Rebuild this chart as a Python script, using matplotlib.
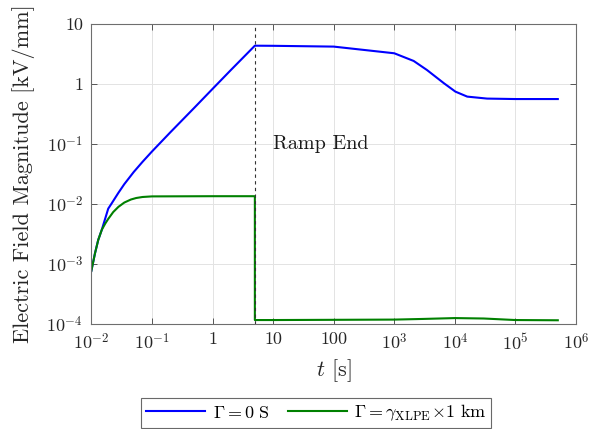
import matplotlib
matplotlib.use('Agg')
import matplotlib.pyplot as plt
from matplotlib.ticker import FixedLocator, FixedFormatter, NullLocator

plt.rcParams['font.family'] = 'serif'
plt.rcParams['font.serif'] = ['cmr10', 'DejaVu Serif']
plt.rcParams['mathtext.fontset'] = 'cm'
plt.rcParams['axes.unicode_minus'] = False

# blue curve: Gamma = 0 S
t_blue = [0.01, 0.0115, 0.013, 0.0149, 0.0165, 0.019, 0.0217, 0.0279, 0.035, 0.05, 0.07, 0.1, 0.2, 0.5, 1, 2, 5,
          10, 100, 1000, 2090, 3460, 6580, 10200, 16000, 34000, 100000, 500000]
e_blue = [7.6e-4, 1.5e-3, 2.5e-3, 3.7e-3, 5.2e-3, 8.3e-3, 1.02e-2, 1.52e-2, 2.13e-2, 3.39e-2, 5.02e-2, 7.45e-2, 0.155, 0.40, 0.826, 1.70, 4.35,
          4.33, 4.2, 3.25, 2.42, 1.71, 1.03, 0.745, 0.615, 0.57, 0.56, 0.56]

# green curve: Gamma = gamma_XLPE x 1 km
t_green = [0.01, 0.0115, 0.013, 0.0149, 0.017, 0.019, 0.023, 0.028, 0.035, 0.045, 0.055, 0.07, 0.1, 1, 5,
           5, 10, 100, 1000, 3000, 10000, 30000, 100000, 500000]
e_green = [7.6e-4, 1.5e-3, 2.5e-3, 3.7e-3, 4.7e-3, 5.6e-3, 7.3e-3, 8.9e-3, 1.05e-2, 1.18e-2, 1.25e-2, 1.3e-2, 1.33e-2, 1.34e-2, 1.34e-2,
           1.15e-4, 1.15e-4, 1.16e-4, 1.17e-4, 1.2e-4, 1.24e-4, 1.22e-4, 1.15e-4, 1.14e-4]

ramp_end = 5

x_ticks = [1e-2, 1e-1, 1, 10, 100, 1e3, 1e4, 1e5, 1e6]
x_labels = [r'$10^{-2}$', r'$10^{-1}$', '1', '10', '100', r'$10^{3}$', r'$10^{4}$', r'$10^{5}$', r'$10^{6}$']
y_ticks = [1e-4, 1e-3, 1e-2, 1e-1, 1, 10]
y_labels = [r'$10^{-4}$', r'$10^{-3}$', r'$10^{-2}$', r'$10^{-1}$', '1', '10']

fig = plt.figure(figsize=(6.13, 4.29), dpi=100)
ax = fig.add_axes([0.149, 0.2455, 0.7907, 0.6985])

ax.plot(t_blue, e_blue, color=(0, 0, 1), lw=1.5, label=r'$\Gamma = 0\ \mathrm{S}$')
ax.plot(t_green, e_green, color=(0, 0.5, 0), lw=1.5,
        label=r'$\Gamma = \gamma_{\mathrm{XLPE}}\!\times\!1\ \mathrm{km}$')
ax.axvline(ramp_end, color='#333333', ls=(0, (3, 3)), lw=0.8)
ax.text(10, 0.1, 'Ramp End', fontsize=14.5, va='center', ha='left', color='#1a1a1a')

ax.set_xscale('log')
ax.set_yscale('log')
ax.set_xlim(1e-2, 1e6)
ax.set_ylim(1e-4, 10)
ax.xaxis.set_major_locator(FixedLocator(x_ticks))
ax.xaxis.set_major_formatter(FixedFormatter(x_labels))
ax.yaxis.set_major_locator(FixedLocator(y_ticks))
ax.yaxis.set_major_formatter(FixedFormatter(y_labels))
ax.xaxis.set_minor_locator(NullLocator())
ax.yaxis.set_minor_locator(NullLocator())
ax.tick_params(direction='in', length=4, width=0.7, top=True, right=True,
               labelsize=13, colors='#555555', labelcolor='#262626', pad=6)
ax.grid(True, color='#e3e3e3', lw=0.7)
ax.set_axisbelow(True)
for s in ax.spines.values():
    s.set_color('#6e6e6e')
    s.set_linewidth(0.8)

ax.set_xlabel(r'$t$ [s]', fontsize=16, color='#262626', labelpad=3)
ax.set_ylabel('Electric Field Magnitude [kV/mm]', fontsize=16, color='#262626', labelpad=8)

leg = fig.legend(loc='center', bbox_to_anchor=(0.516, 0.037), ncol=2, fontsize=13,
                 handlelength=3.3, columnspacing=1.0, handletextpad=0.4,
                 frameon=True, fancybox=False, edgecolor='#444444', borderpad=0.25)
leg.get_frame().set_linewidth(0.8)

fig.savefig('out.png', dpi=100)
